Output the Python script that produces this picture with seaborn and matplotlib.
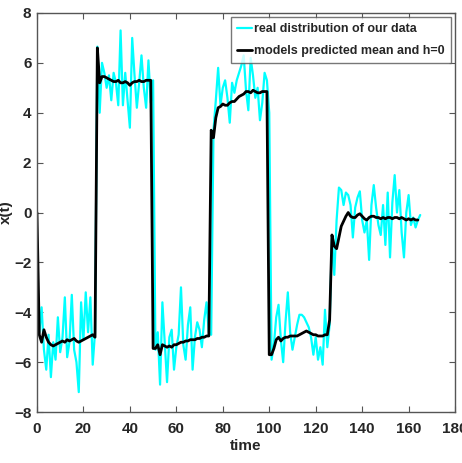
import numpy as np
import pandas as pd
import matplotlib
matplotlib.use("Agg")
import matplotlib.pyplot as plt
import seaborn as sns

# observed data (t = 1..165)
real_data = [
    -4.8, -3.8, -5.5, -6.3, -4.9, -6.6, -5.2, -5.9, -4.2, -5.6,
    -5.0, -3.4, -5.8, -5.2, -3.3, -5.5, -6.0, -7.2, -3.6, -5.1,
    -3.2, -4.8, -3.4, -6.1, -4.8,
    6.65, 4.0, 6.0, 5.6, 5.0, 5.5, 4.5, 5.6, 5.2, 4.3,
    7.3, 4.3, 5.6, 4.5, 3.4, 7.0, 5.5, 4.2, 5.2, 6.3,
    5.0, 4.2, 6.1, 4.4, 5.3,
    -5.5, -4.8, -6.9, -3.6, -5.2, -6.8, -5.0, -4.7, -6.3, -5.4,
    -4.9, -3.0, -5.3, -5.9, -4.5, -3.8, -6.3, -5.0, -4.4, -4.7,
    -5.4, -4.3, -3.6, -4.8, -4.9,
    3.3, 4.5, 5.8, 4.3, 5.0, 5.3, 4.6, 3.6, 5.2, 4.8,
    5.3, 5.6, 5.9, 6.3, 4.9, 4.1, 6.2, 5.5, 4.6, 5.0,
    3.7, 4.4, 5.6, 5.3, 4.0,
    -5.9, -5.3, -4.2, -3.7, -5.1, -6.0, -4.4, -3.2, -4.8, -5.5,
    -5.0, -4.5, -4.1, -4.1, -4.2, -4.4, -4.6, -5.0, -5.7, -5.0,
    -5.9, -5.4, -6.1, -3.9, -5.4,
    -4.5, -1.0, -2.5, -0.3, 1.0, 0.9, 0.3, 0.8, 0.7, 0.3,
    -1.0, 0.2, 0.6, 0.85, -0.3, -0.8, -0.3, -1.9, 0.3, 1.1,
    0.2, -0.5, -0.9, 0.3, -1.3, 0.8, -1.8, 0.4, 1.5, 0.0,
    0.9, -0.8, -1.8, 0.0, 0.7, -0.5, -0.2, -0.6, -0.3, -0.1,
]

# predicted mean (t = 0..165)
pred_mean = [
    0.0,
    -4.9, -5.2, -4.7, -5.0, -5.2, -5.3, -5.35, -5.3, -5.25, -5.2,
    -5.15, -5.2, -5.1, -5.15, -5.1, -5.05, -5.15, -5.2, -5.15, -5.1,
    -5.05, -5.0, -4.95, -4.9, -5.0,
    6.6, 5.2, 5.45, 5.45, 5.4, 5.35, 5.3, 5.25, 5.25, 5.3,
    5.2, 5.2, 5.25, 5.2, 5.1, 5.2, 5.25, 5.25, 5.3, 5.25,
    5.25, 5.3, 5.3, 5.3,
    -5.45, -5.45, -5.3, -5.7, -5.3, -5.35, -5.4, -5.35, -5.4, -5.3,
    -5.3, -5.25, -5.2, -5.2, -5.15, -5.15, -5.1, -5.1, -5.1, -5.05,
    -5.05, -5.0, -5.0, -4.95, -4.95,
    3.3, 3.0, 3.8, 4.2, 4.25, 4.35, 4.3, 4.3, 4.4, 4.45,
    4.45, 4.55, 4.65, 4.7, 4.75, 4.85, 4.85, 4.8, 4.9, 4.85,
    4.8, 4.8, 4.85, 4.85, 4.85,
    -5.7, -5.7, -5.45, -5.1, -5.0, -5.15, -5.05, -5.0, -5.0, -4.95,
    -4.95, -4.95, -4.95, -4.9, -4.85, -4.8, -4.75, -4.8, -4.85, -4.9,
    -4.9, -4.95, -4.95, -4.95, -4.9,
    -4.9, -4.3, -0.9, -1.35, -1.45, -1.0, -0.55, -0.35, -0.15, 0.0,
    -0.15, -0.2, -0.2, -0.1, -0.05, -0.15, -0.25, -0.3, -0.2, -0.15,
    -0.15, -0.2, -0.2, -0.25, -0.2, -0.25, -0.2, -0.2, -0.25, -0.2,
    -0.2, -0.25, -0.2, -0.25, -0.3, -0.25, -0.3, -0.25, -0.3, -0.3,
]

t_real = np.arange(1, len(real_data) + 1)
t_pred = np.arange(0, len(pred_mean))

x_ticks = [0, 20, 40, 60, 80, 100, 120, 140, 160, 180]
y_ticks = [-8, -6, -4, -2, 0, 2, 4, 6, 8]

sns.set_style("ticks")
plt.rcParams['font.family'] = ['Liberation Sans', 'DejaVu Sans']

fig = plt.figure(figsize=(4.62, 4.63), dpi=100)
ax = fig.add_axes([0.080, 0.110, 0.905, 0.862])

sns.lineplot(x=t_real, y=real_data, color='#00ffff', linewidth=1.6,
             label='real distribution of our data', ax=ax)
sns.lineplot(x=t_pred, y=pred_mean, color='black', linewidth=2.0,
             label='models predicted mean and h=0', ax=ax)

ax.set_xlim(0, 180)
ax.set_ylim(-8, 8)
ax.set_xticks(x_ticks)
ax.set_yticks(y_ticks)
ax.tick_params(direction='in', length=4, top=True, right=True,
               color='#555555', labelsize=11)
ax.tick_params(axis='x', pad=7)
ax.tick_params(axis='y', pad=4)
for lab in ax.get_xticklabels() + ax.get_yticklabels():
    lab.set_fontweight('bold')
for sp in ax.spines.values():
    sp.set_color('#555555')
    sp.set_linewidth(1.0)

ax.set_xlabel('time', fontsize=11, fontweight='bold', labelpad=2)
ax.set_ylabel('x(t)', fontsize=11, fontweight='bold', labelpad=1)

leg = ax.legend(loc='upper right', fontsize=9, handlelength=1.2,
                handletextpad=0.2, borderaxespad=0.3, frameon=True,
                fancybox=False, borderpad=0.5, labelspacing=0.8)
leg.get_frame().set_edgecolor('#555555')
leg.get_frame().set_linewidth(1.0)
for txt in leg.get_texts():
    txt.set_fontweight('bold')

fig.savefig('out.png', dpi=100)
